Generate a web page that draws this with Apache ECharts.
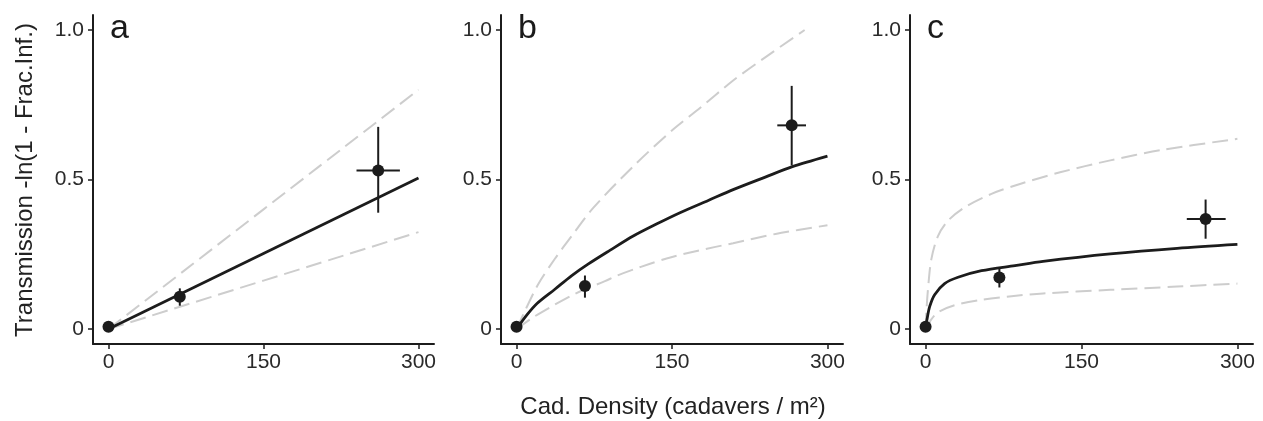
<!DOCTYPE html>
<html>
<head>
<meta charset="utf-8">
<script src="https://cdn.jsdelivr.net/npm/echarts@6/dist/echarts.min.js"></script>
<style>
  html, body { margin: 0; padding: 0; background: #fff; }
  #chart { width: 1263px; height: 421px; }
</style>
</head>
<body>
<div id="chart"></div>
<script>
// tick labels
const xTicks = [0, 150, 300];
const yTicks = [0, 0.5, 1.0];
const panelLabels = ['a', 'b', 'c'];

// observed points: x, y, y error range, x error range
const obsA = { x: [0, 69, 261], y: [0.008, 0.108, 0.53], yLo: [0.008, 0.078, 0.389], yHi: [0.008, 0.136, 0.676], xLo: [0, 69, 240], xHi: [0, 69, 282] };
const obsB = { x: [0, 66, 265.5], y: [0.008, 0.144, 0.681], yLo: [0.008, 0.105, 0.547], yHi: [0.008, 0.179, 0.813], xLo: [0, 66, 251.6], xHi: [0, 66, 279.3] };
const obsC = { x: [0, 71, 269.4], y: [0.008, 0.172, 0.368], yLo: [0.008, 0.139, 0.302], yHi: [0.008, 0.203, 0.433], xLo: [0, 71, 251.3], xHi: [0, 71, 288.7] };

// fitted curves (solid) and their bounds (dashed)
const fitA = [[0, 0], [300, 0.505]];
const upA = [[0, 0], [300, 0.80]];
const loA = [[0, 0], [300, 0.324]];

const fitB = [[0, 0], [10, 0.047], [20, 0.086], [37, 0.133], [53, 0.178], [69, 0.217], [90, 0.263], [112.6, 0.311], [135, 0.351], [157.7, 0.389], [185, 0.43], [209, 0.466], [240, 0.508], [265.5, 0.542], [300, 0.578]];
const upB = [[0, 0], [8, 0.06], [20.9, 0.15], [37, 0.235], [53, 0.31], [74, 0.405], [112.6, 0.544], [151, 0.667], [177, 0.739], [209, 0.831], [241, 0.911], [278, 1.0]];
const loB = [[0, 0], [16, 0.039], [32, 0.072], [53, 0.112], [66, 0.133], [85.3, 0.16], [96.5, 0.178], [120, 0.208], [144.8, 0.236], [175, 0.262], [209, 0.287], [250, 0.318], [300, 0.347]];

const fitC = [[0, 0], [1.5, 0.035], [3.9, 0.075], [8.7, 0.115], [18.3, 0.152], [31.2, 0.173], [53.8, 0.195], [86, 0.212], [113, 0.226], [177.7, 0.251], [242, 0.27], [300, 0.283]];
const upC = [[0, 0], [0.8, 0.06], [2.3, 0.133], [5.5, 0.233], [11.9, 0.311], [21.5, 0.362], [37.7, 0.407], [63.4, 0.452], [90.8, 0.485], [129.4, 0.524], [177.7, 0.564], [226, 0.598], [300, 0.636]];
const loC = [[0, 0], [5, 0.03], [11.9, 0.056], [28, 0.08], [53.8, 0.098], [82.7, 0.11], [113, 0.119], [177.7, 0.131], [242, 0.142], [300, 0.152]];

const panels = [
  { obs: obsA, fit: fitA, up: upA, lo: loA, left: 93, width: 341 },
  { obs: obsB, fit: fitB, up: upB, lo: loB, left: 501, width: 342 },
  { obs: obsC, fit: fitC, up: upC, lo: loC, left: 910, width: 343 },
];

const dark = '#1c1c1c';
const grey = '#cdcdcd';
const font = 'Liberation Sans';

const grids = [], xAxes = [], yAxes = [], series = [], graphics = [];

panels.forEach((p, i) => {
  grids.push({ left: p.left, top: 15, width: p.width, height: 329 });
  xAxes.push({
    type: 'value', gridIndex: i, min: -15, max: 315,
    axisLine: { show: true, onZero: false, lineStyle: { color: dark, width: 2 } },
    axisTick: { show: true, length: 5, lineStyle: { color: dark, width: 1.5 }, customValues: xTicks },
    axisLabel: { customValues: xTicks, margin: 8, color: '#2a2a2a', fontSize: 21, fontFamily: font },
    splitLine: { show: false },
  });
  yAxes.push({
    type: 'value', gridIndex: i, min: -0.05, max: 1.05,
    axisLine: { show: true, onZero: false, lineStyle: { color: dark, width: 2 } },
    axisTick: { show: true, length: 5, lineStyle: { color: dark, width: 1.5 }, customValues: yTicks },
    axisLabel: {
      customValues: yTicks, margin: 9, color: '#2a2a2a', fontSize: 21, fontFamily: font,
      formatter: v => (v === 0 ? '0' : v.toFixed(1)),
    },
    splitLine: { show: false },
  });

  [p.lo, p.up].forEach(d => {
    series.push({
      type: 'line', xAxisIndex: i, yAxisIndex: i, data: d, showSymbol: false,
      smooth: 0.3, silent: true, z: 1,
      lineStyle: { color: grey, width: 2, type: [16, 7] },
    });
  });
  series.push({
    type: 'line', xAxisIndex: i, yAxisIndex: i, data: p.fit, showSymbol: false,
    smooth: 0.3, silent: true, z: 2,
    lineStyle: { color: dark, width: 2.8 },
  });

  const o = p.obs;
  const errRows = o.x.map((x, k) => [x, o.y[k], o.yLo[k], o.yHi[k], o.xLo[k], o.xHi[k]]);
  series.push({
    type: 'custom', xAxisIndex: i, yAxisIndex: i, data: errRows, z: 3, silent: true,
    renderItem: (params, api) => {
      const c = api.coord([api.value(0), api.value(1)]);
      const lo = api.coord([api.value(0), api.value(2)]);
      const hi = api.coord([api.value(0), api.value(3)]);
      const l = api.coord([api.value(4), api.value(1)]);
      const r = api.coord([api.value(5), api.value(1)]);
      const st = { stroke: dark, lineWidth: 2 };
      return {
        type: 'group',
        children: [
          { type: 'line', shape: { x1: lo[0], y1: lo[1], x2: hi[0], y2: hi[1] }, style: st },
          { type: 'line', shape: { x1: l[0], y1: c[1], x2: r[0], y2: c[1] }, style: st },
        ],
      };
    },
  });
  series.push({
    type: 'scatter', xAxisIndex: i, yAxisIndex: i, z: 4, silent: true,
    data: o.x.map((x, k) => [x, o.y[k]]),
    symbolSize: 12, itemStyle: { color: dark, opacity: 1 },
  });

  graphics.push({
    type: 'text', left: p.left + 17, top: 12,
    style: { text: panelLabels[i], fontSize: 34, fontFamily: font, fill: '#1a1a1a' },
  });
});

graphics.push({
  type: 'text', x: 25, y: 180, rotation: Math.PI / 2,
  style: { text: 'Transmission -ln(1 - Frac.Inf.)', fontSize: 24, fontFamily: font, fill: '#222', align: 'center', verticalAlign: 'middle' },
});
graphics.push({
  type: 'text', x: 673, y: 407,
  style: { text: 'Cad. Density (cadavers / m²)', fontSize: 24, fontFamily: font, fill: '#222', align: 'center', verticalAlign: 'middle' },
});

const chart = echarts.init(document.getElementById('chart'));
chart.setOption({
  animation: false,
  backgroundColor: '#fff',
  grid: grids,
  xAxis: xAxes,
  yAxis: yAxes,
  series: series,
  graphic: graphics,
});
</script>
</body>
</html>
